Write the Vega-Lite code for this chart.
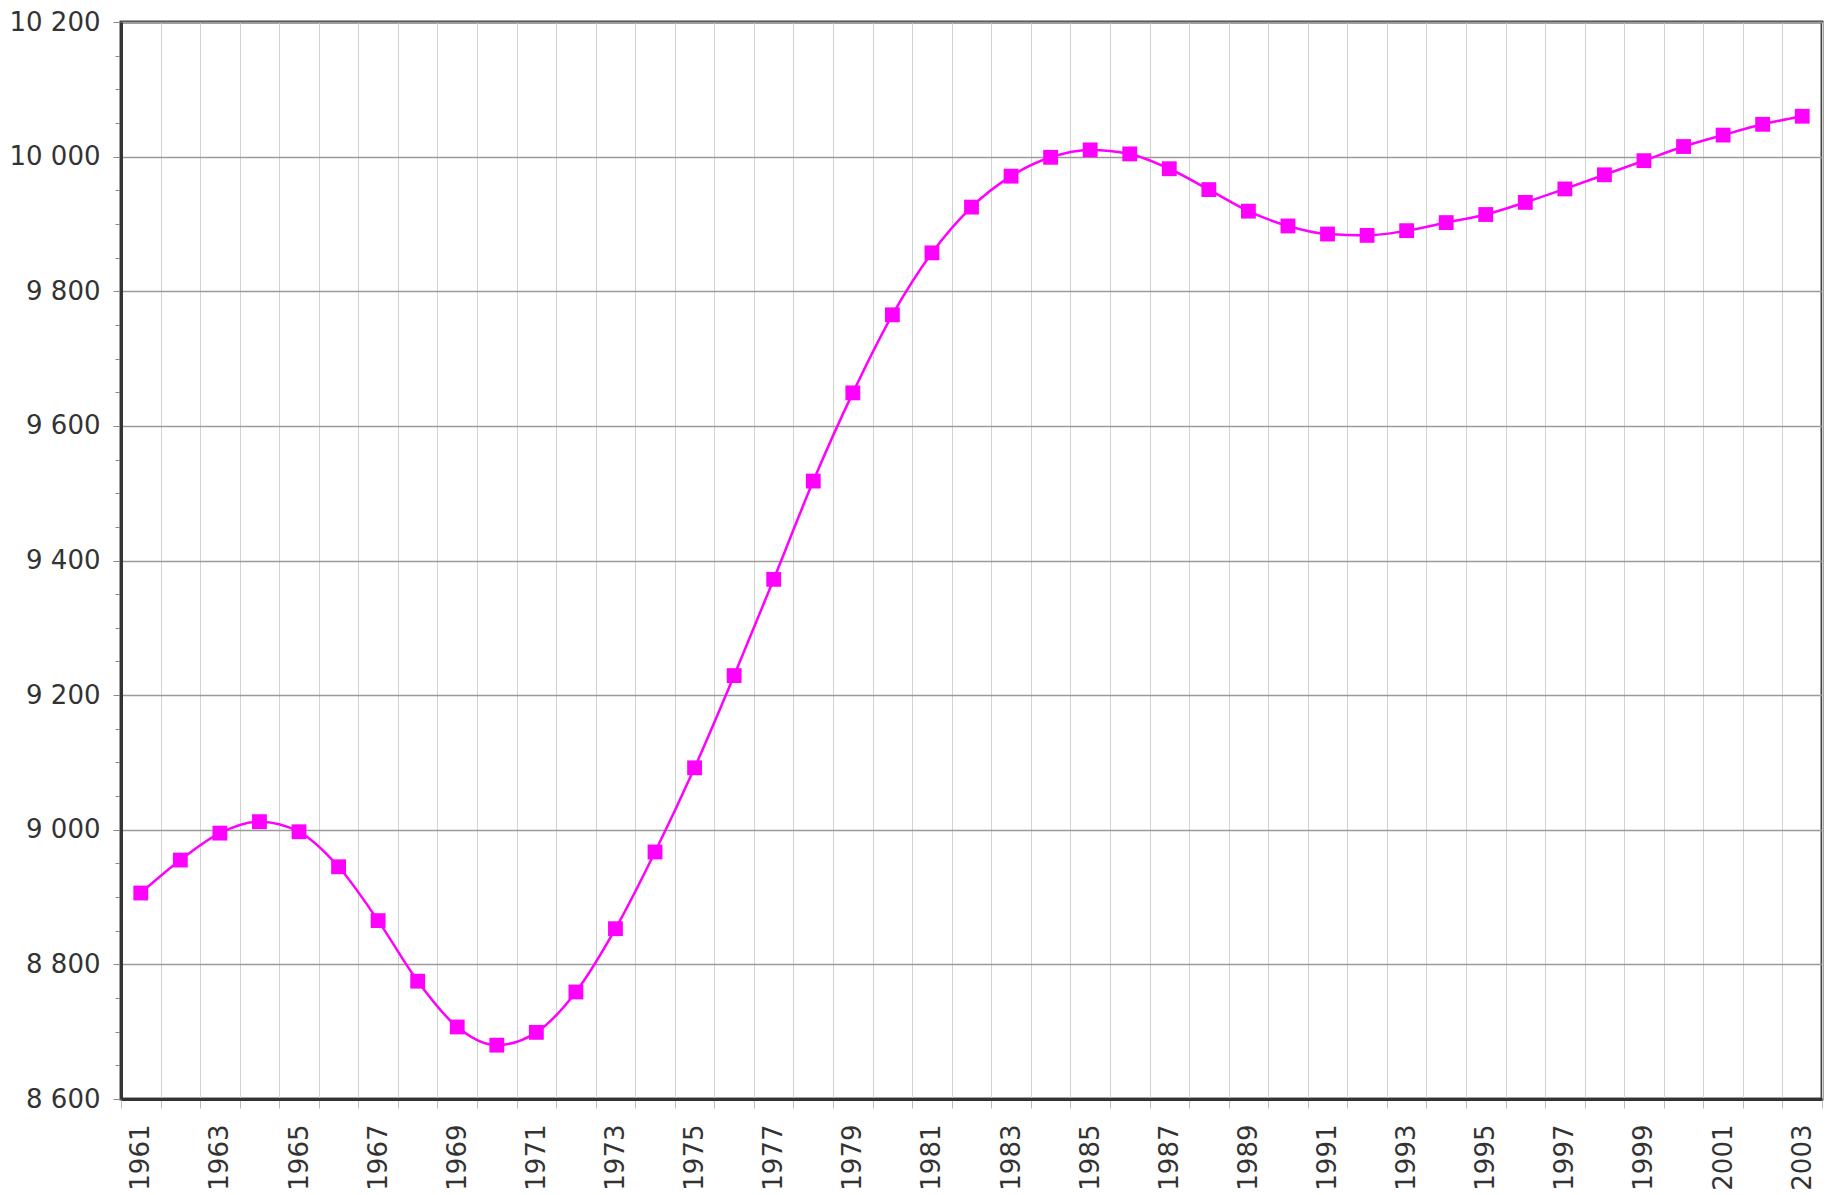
{
  "$schema": "https://vega.github.io/schema/vega-lite/v6.json",
  "width": 1701,
  "height": 1077,
  "autosize": {"type": "none"},
  "padding": {"left": 121, "top": 22, "right": 5, "bottom": 96},
  "background": "white",
  "config": {
    "view": {"stroke": "#444444", "strokeWidth": 3},
    "axis": {
      "labelFont": "DejaVu Sans",
      "labelFontSize": 26,
      "labelColor": "#333333",
      "domainColor": "#333333",
      "domainWidth": 3,
      "labelOverlap": false,
      "labelFlush": false,
      "title": null
    }
  },
  "data": {
    "values": [
      {"year": 1961, "value": 8906},
      {"year": 1962, "value": 8955},
      {"year": 1963, "value": 8995},
      {"year": 1964, "value": 9012},
      {"year": 1965, "value": 8997},
      {"year": 1966, "value": 8945},
      {"year": 1967, "value": 8865},
      {"year": 1968, "value": 8775},
      {"year": 1969, "value": 8707},
      {"year": 1970, "value": 8680},
      {"year": 1971, "value": 8699},
      {"year": 1972, "value": 8759},
      {"year": 1973, "value": 8853},
      {"year": 1974, "value": 8967},
      {"year": 1975, "value": 9092},
      {"year": 1976, "value": 9229},
      {"year": 1977, "value": 9372},
      {"year": 1978, "value": 9518},
      {"year": 1979, "value": 9649},
      {"year": 1980, "value": 9765},
      {"year": 1981, "value": 9857},
      {"year": 1982, "value": 9925},
      {"year": 1983, "value": 9971},
      {"year": 1984, "value": 9999},
      {"year": 1985, "value": 10010},
      {"year": 1986, "value": 10004},
      {"year": 1987, "value": 9982},
      {"year": 1988, "value": 9951},
      {"year": 1989, "value": 9919},
      {"year": 1990, "value": 9897},
      {"year": 1991, "value": 9885},
      {"year": 1992, "value": 9883},
      {"year": 1993, "value": 9890},
      {"year": 1994, "value": 9902},
      {"year": 1995, "value": 9914},
      {"year": 1996, "value": 9932},
      {"year": 1997, "value": 9952},
      {"year": 1998, "value": 9973},
      {"year": 1999, "value": 9994},
      {"year": 2000, "value": 10015},
      {"year": 2001, "value": 10032},
      {"year": 2002, "value": 10048},
      {"year": 2003, "value": 10060}
    ]
  },
  "encoding": {
    "x": {
      "field": "year",
      "type": "ordinal",
      "scale": {"type": "band", "paddingInner": 0, "paddingOuter": 0},
      "axis": {
        "tickBand": "extent",
        "grid": true,
        "gridColor": "#d2d2d2",
        "gridWidth": 1,
        "tickColor": "#bbbbbb",
        "tickSize": 9,
        "labelAngle": -90,
        "labelPadding": 16,
        "labelExpr": "(datum.value - 1961) % 2 === 0 ? datum.label : ''"
      }
    },
    "y": {
      "field": "value",
      "type": "quantitative",
      "scale": {"domain": [8600, 10200], "nice": false, "zero": false},
      "axis": {
        "values": [8600, 8650, 8700, 8750, 8800, 8850, 8900, 8950, 9000, 9050, 9100, 9150, 9200, 9250, 9300, 9350, 9400, 9450, 9500, 9550, 9600, 9650, 9700, 9750, 9800, 9850, 9900, 9950, 10000, 10050, 10100, 10150, 10200],
        "grid": true,
        "gridColor": "#9a9a9a",
        "gridWidth": 1.5,
        "gridOpacity": {"condition": {"test": "datum.value % 200 === 0", "value": 1}, "value": 0},
        "tickColor": "#888888",
        "tickSize": {"condition": {"test": "datum.value % 200 === 0", "value": 8}, "value": 6},
        "labelPadding": 13,
        "labelExpr": "datum.value % 200 === 0 ? replace(format(datum.value, ','), ',', ' ') : ''"
      }
    }
  },
  "layer": [
    {
      "mark": {"type": "line", "color": "#ff00ff", "strokeWidth": 2.5, "interpolate": "monotone"}
    },
    {
      "mark": {"type": "point", "shape": "square", "filled": true, "color": "#ff00ff", "size": 220, "opacity": 1}
    }
  ]
}
